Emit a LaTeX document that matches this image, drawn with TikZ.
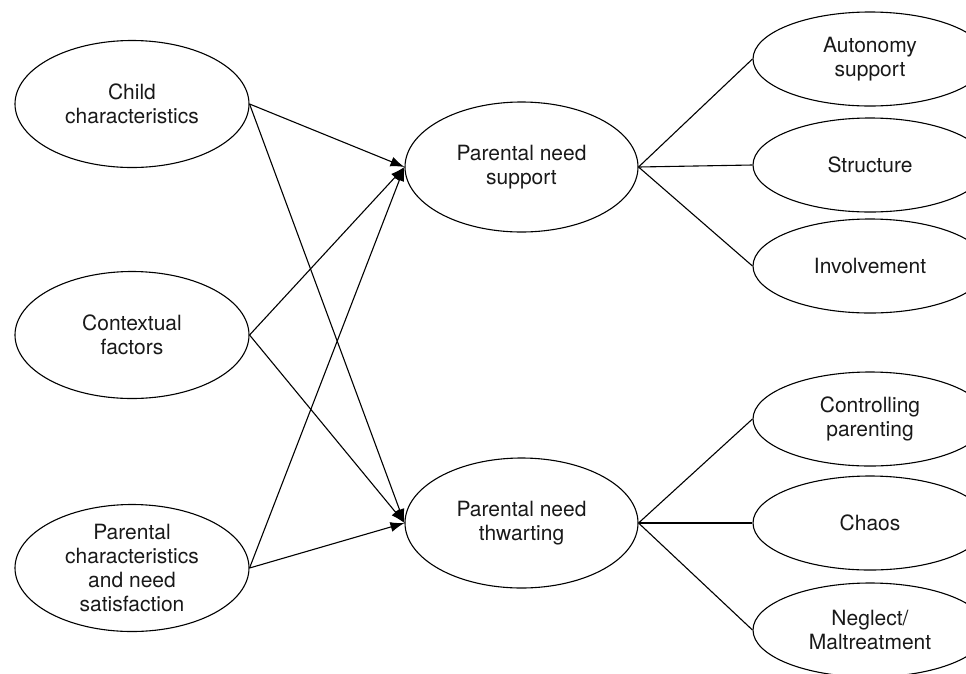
\documentclass[tikz,border=0pt]{standalone}
\usepackage{fontspec}
\setmainfont{TeX Gyre Heros}
\usetikzlibrary{shapes.geometric,arrows.meta}
\begin{document}
\begin{tikzpicture}[x=1pt,y=-1pt,
  ell/.style={draw, ellipse, line width=1.1pt, inner sep=0pt, align=center,
    font=\fontsize{21}{24}\selectfont, text=black!90},
  leftell/.style={ell, minimum width=234pt, minimum height=127pt},
  midell/.style={ell, minimum width=233pt, minimum height=130pt},
  rightell/.style={ell, minimum width=234pt, minimum height=94pt},
  arr/.style={-{Latex[length=14pt,width=10pt]}, line width=1.1pt},
  conn/.style={line width=1.1pt}]
\useasboundingbox (0,0) rectangle (966,673);
\clip (0,0) rectangle (966,673);

% left column
\node[leftell] (child) at (132,104) {Child\\characteristics};
\node[leftell] (ctx)   at (132,335) {Contextual\\factors};
\node[leftell] (pch)   at (132,568) {Parental\\characteristics\\and need\\satisfaction};

% middle column
\node[midell] (sup) at (521.5,167) {Parental need\\support};
\node[midell] (thw) at (521.5,523) {Parental need\\thwarting};

% right column
\node[rightell] (aut) at (870,59)  {Autonomy\\support};
\node[rightell] (str) at (870,165) {Structure};
\node[rightell] (inv) at (870,266) {Involvement};
\node[rightell] (con) at (870,419) {Controlling\\parenting};
\node[rightell] (cha) at (870,523) {Chaos};
\node[rightell] (neg) at (870,630) {Neglect/\\Maltreatment};

% arrows
\foreach \s in {child,ctx,pch}{
  \draw[arr] (\s.east) -- (sup.west);
  \draw[arr] (\s.east) -- (thw.west);
}

% connectors
\foreach \t in {aut,str,inv}{ \draw[conn] (sup.east) -- (\t.west); }
\foreach \t in {con,cha,neg}{ \draw[conn] (thw.east) -- (\t.west); }
\end{tikzpicture}
\end{document}
